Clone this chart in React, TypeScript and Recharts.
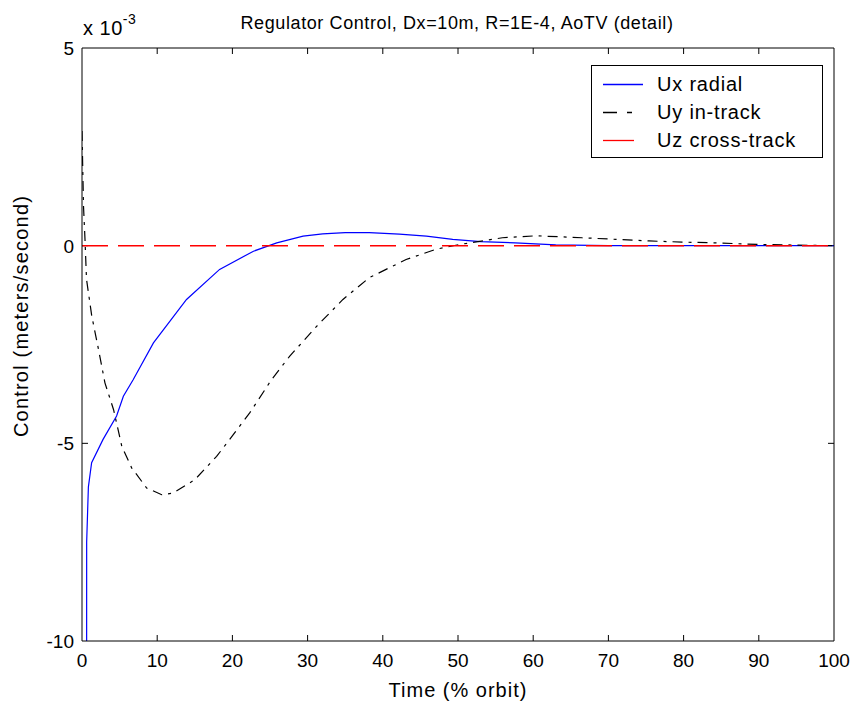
import { Line, LineChart, ReferenceLine, XAxis, YAxis } from "recharts";

const FONT = '"Liberation Sans", Arial, sans-serif';

const TITLE = "Regulator Control, Dx=10m, R=1E-4, AoTV (detail)";
const X_LABEL = "Time (% orbit)";
const Y_LABEL = "Control (meters/second)";

const X_TICKS = [0, 10, 20, 30, 40, 50, 60, 70, 80, 90, 100];
const Y_TICKS = [-10, -5, 0, 5];
const X_DOMAIN: [number, number] = [0, 100];
const Y_DOMAIN: [number, number] = [-10, 5];

// values in units of 1e-3 m/s
const uxTime = [0.6, 0.62, 0.85, 1.28, 2.8, 4.6, 5.5, 6.8, 9.5, 13.9, 18.3, 22.8, 25.9, 29.4, 32, 35, 38.2, 42.2, 45.8, 49.3, 53, 57.6, 63, 70, 80, 90, 100];
const uxValue = [-20, -7.5, -6.1, -5.49, -4.9, -4.31, -3.81, -3.39, -2.46, -1.36, -0.6, -0.14, 0.07, 0.24, 0.3, 0.33, 0.33, 0.29, 0.24, 0.16, 0.1, 0.07, 0.02, 0, 0, 0, 0];

const uyTime = [0, 0.2, 0.4, 0.6, 1.3, 2.2, 3.05, 4.2, 5.3, 6.6, 8.6, 10.6, 12.1, 15, 17.9, 19.6, 22.3, 25.2, 27.6, 31.2, 34.7, 38.2, 43.1, 47.1, 50.2, 55.9, 60.4, 66.5, 71, 75.4, 79.8, 84.3, 90, 100];
const uyValue = [2.9, 1.0, 0.15, -0.85, -1.78, -2.63, -3.47, -4.15, -5.08, -5.62, -6.13, -6.3, -6.26, -5.92, -5.33, -4.91, -4.23, -3.39, -2.8, -2.04, -1.36, -0.81, -0.35, -0.09, 0.03, 0.2, 0.25, 0.2, 0.16, 0.12, 0.09, 0.07, 0.03, 0];

const uzTime = [0, 25, 50, 75, 100];
const uzValue = [0, 0, 0, 0, 0];

const toRows = (ts: number[], vs: number[]) => ts.map((t, i) => ({ t, v: vs[i] }));

const uxData = toRows(uxTime, uxValue);
const uyData = toRows(uyTime, uyValue);
const uzData = toRows(uzTime, uzValue);

const SERIES = [
  { name: "Ux radial", color: "#0000ff", dash: undefined, len: 40 },
  { name: "Uy in-track", color: "#000000", dash: "14 10 5 10", len: 34 },
  { name: "Uz cross-track", color: "#ff0000", dash: undefined, len: 31 },
];

// inward tick length, ~6px expressed in data units (plot is ~752 x 593 px)
const TICK_X = ((X_DOMAIN[1] - X_DOMAIN[0]) * 6) / 752;
const TICK_Y = ((Y_DOMAIN[1] - Y_DOMAIN[0]) * 6) / 593;

function BottomLabel({ x, y, payload }: any) {
  return (
    <text x={x} y={y + 26} textAnchor="middle" fontFamily={FONT} fontSize={19} fill="#000">
      {payload.value}
    </text>
  );
}

function LeftLabel({ x, y, payload }: any) {
  return (
    <text x={x - 8} y={y + 7} textAnchor="end" fontFamily={FONT} fontSize={19} fill="#000">
      {payload.value}
    </text>
  );
}

function LegendBox() {
  return (
    <div
      style={{
        position: "absolute",
        left: 591,
        top: 65,
        width: 230,
        height: 91,
        border: "1px solid #000",
        background: "#fff",
        fontFamily: FONT,
        fontSize: 20,
        letterSpacing: 0.8,
      }}
    >
      {SERIES.map((s, i) => (
        <div key={s.name} style={{ position: "absolute", left: 11, top: 6 + i * 28, height: 24, display: "flex", alignItems: "center" }}>
          <svg width={44} height={24} style={{ display: "block" }}>
            <line x1={0} y1={12.5} x2={s.len} y2={12.5} stroke={s.color} strokeWidth={1.3} strokeDasharray={s.dash} />
          </svg>
          <span style={{ marginLeft: 10, lineHeight: "24px" }}>{s.name}</span>
        </div>
      ))}
    </div>
  );
}

export default function App() {
  return (
    <div style={{ position: "absolute", left: 0, top: 0, width: 856, height: 709, background: "#fff" }}>
      <LineChart width={856} height={709} margin={{ top: 47, right: 21, bottom: 38, left: 22 }}>
        <XAxis
          xAxisId="b"
          dataKey="t"
          type="number"
          domain={X_DOMAIN}
          ticks={X_TICKS}
          height={30}
          tickSize={0}
          tickMargin={0}
          tickLine={false}
          tick={<BottomLabel />}
          axisLine={{ stroke: "#000" }}
          allowDataOverflow
        />
        <XAxis
          xAxisId="t"
          orientation="top"
          type="number"
          domain={X_DOMAIN}
          ticks={X_TICKS}
          height={1}
          tickLine={false}
          tick={false}
          axisLine={{ stroke: "#000" }}
        />
        <YAxis
          yAxisId="l"
          type="number"
          domain={Y_DOMAIN}
          ticks={Y_TICKS}
          width={60}
          tickSize={0}
          tickMargin={0}
          tickLine={false}
          tick={<LeftLabel />}
          axisLine={{ stroke: "#000" }}
          allowDataOverflow
        />
        <YAxis
          yAxisId="r"
          orientation="right"
          type="number"
          domain={Y_DOMAIN}
          ticks={Y_TICKS}
          width={1}
          tickLine={false}
          tick={false}
          axisLine={{ stroke: "#000" }}
        />
        {X_TICKS.slice(1, -1).map((t) => (
          <ReferenceLine
            key={`xb${t}`}
            xAxisId="b"
            yAxisId="l"
            segment={[{ x: t, y: Y_DOMAIN[0] }, { x: t, y: Y_DOMAIN[0] + TICK_Y }]}
            stroke="#000"
            ifOverflow="visible"
          />
        ))}
        {X_TICKS.slice(1, -1).map((t) => (
          <ReferenceLine
            key={`xt${t}`}
            xAxisId="b"
            yAxisId="l"
            segment={[{ x: t, y: Y_DOMAIN[1] }, { x: t, y: Y_DOMAIN[1] - TICK_Y }]}
            stroke="#000"
            ifOverflow="visible"
          />
        ))}
        {Y_TICKS.slice(1, -1).map((v) => (
          <ReferenceLine
            key={`yl${v}`}
            xAxisId="b"
            yAxisId="l"
            segment={[{ x: X_DOMAIN[0], y: v }, { x: X_DOMAIN[0] + TICK_X, y: v }]}
            stroke="#000"
            ifOverflow="visible"
          />
        ))}
        {Y_TICKS.slice(1, -1).map((v) => (
          <ReferenceLine
            key={`yr${v}`}
            xAxisId="b"
            yAxisId="l"
            segment={[{ x: X_DOMAIN[1], y: v }, { x: X_DOMAIN[1] - TICK_X, y: v }]}
            stroke="#000"
            ifOverflow="visible"
          />
        ))}
        <Line
          xAxisId="b"
          yAxisId="l"
          data={uxData}
          dataKey="v"
          name="Ux radial"
          stroke="#0000ff"
          strokeWidth={1.2}
          dot={false}
          type="linear"
          isAnimationActive={false}
        />
        <Line
          xAxisId="b"
          yAxisId="l"
          data={uyData}
          dataKey="v"
          name="Uy in-track"
          stroke="#000"
          strokeWidth={1.2}
          strokeDasharray="10 6 3 6"
          dot={false}
          type="linear"
          isAnimationActive={false}
        />
        <Line
          xAxisId="b"
          yAxisId="l"
          data={uzData}
          dataKey="v"
          name="Uz cross-track"
          stroke="#ff0000"
          strokeWidth={1.5}
          strokeDasharray="26 10"
          dot={false}
          type="linear"
          isAnimationActive={false}
        />
        <text x={457} y={29} textAnchor="middle" fontFamily={FONT} fontSize={18} letterSpacing={0.6} fill="#000">
          {TITLE}
        </text>
        <text x={83} y={35} fontFamily={FONT} fontSize={20} letterSpacing={0.5} fill="#000">
          x 10
          <tspan dy={-11} fontSize={14}>-3</tspan>
        </text>
        <text x={458} y={697} textAnchor="middle" fontFamily={FONT} fontSize={20} letterSpacing={1} fill="#000">
          {X_LABEL}
        </text>
        <text
          x={28}
          y={316}
          textAnchor="middle"
          fontFamily={FONT}
          fontSize={20}
          letterSpacing={1.2}
          fill="#000"
          transform="rotate(-90 28 316)"
        >
          {Y_LABEL}
        </text>
      </LineChart>
      <LegendBox />
    </div>
  );
}
